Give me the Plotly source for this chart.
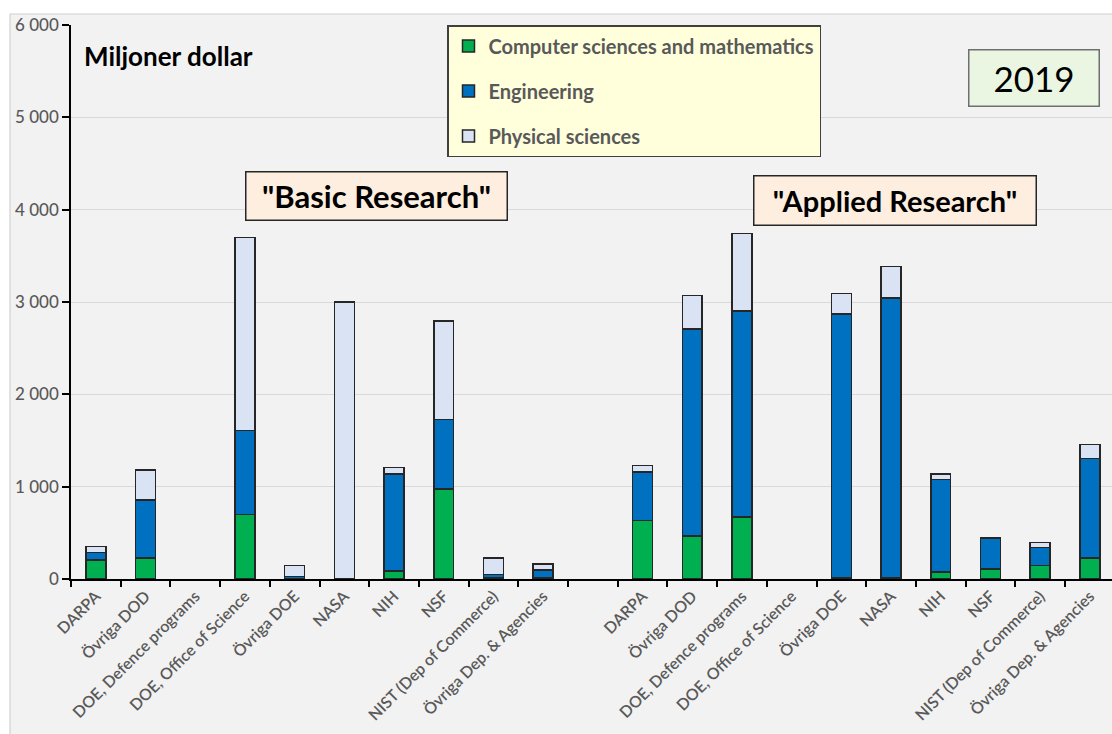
import plotly.graph_objects as go

# ---------------- data ----------------
agencies = ["DARPA", "Övriga DOD", "DOE, Defence programs", "DOE, Office of Science",
            "Övriga DOE", "NASA", "NIH", "NSF", "NIST (Dep of Commerce)",
            "Övriga Dep. & Agencies"]
series_names = ["Computer sciences and mathematics", "Engineering", "Physical sciences"]

basic_cs = [205, 230, 0, 700, 5, 0, 85, 975, 10, 15]
basic_eng = [80, 625, 0, 910, 20, 0, 1050, 755, 40, 85]
basic_phys = [65, 325, 0, 2090, 120, 3000, 70, 1065, 175, 65]

applied_cs = [635, 465, 670, 0, 15, 10, 75, 110, 145, 225]
applied_eng = [525, 2240, 2230, 0, 2855, 3035, 1000, 330, 195, 1080]
applied_phys = [70, 365, 840, 0, 220, 340, 60, 10, 55, 150]

y_tickvals = [0, 1000, 2000, 3000, 4000, 5000, 6000]
y_ticktext = ["0", "1 000", "2 000", "3 000", "4 000", "5 000", "6 000"]

labels_basic = '"Basic Research"'
labels_applied = '"Applied Research"'
unit_label = "Miljoner dollar"
year_label = "2019"

# ---------------- combine ----------------
x_labels = agencies + [""] + agencies
x_pos = list(range(len(x_labels)))


def joined(b, a):
    return [v if v else None for v in b] + [None] + [v if v else None for v in a]


cs = joined(basic_cs, applied_cs)
eng = joined(basic_eng, applied_eng)
phys = joined(basic_phys, applied_phys)

colors = ["#00B050", "#0070C0", "#DAE3F3"]

W, H = 1112, 734
ML, MR, MT, MB = 71, 0, 25, 155
PW, PH = W - ML - MR, H - MT - MB
slot = 49.7


def px2x(p):
    return (p - ML) / PW


def px2y(p):
    return (H - MB - p) / PH


fig = go.Figure()
for name, vals, col, grp in zip(series_names, [cs, eng, phys], colors, ["a", "b", "c"]):
    fig.add_trace(go.Bar(
        x=x_pos, y=vals, name=name, legendgroup=grp,
        marker=dict(color=col, line=dict(color="#262626", width=1.5)),
    ))

tick_font = dict(family="Lato", size=16, color="#595959", weight=600)

fig.update_layout(
    width=W, height=H,
    margin=dict(l=ML, r=MR, t=MT, b=MB),
    barmode="stack", bargap=0.6,
    paper_bgcolor="#F2F2F2", plot_bgcolor="#F2F2F2",
    font=dict(family="Lato"),
    showlegend=True,
    legend=dict(
        x=px2x(447), y=px2y(25), xanchor="left", yanchor="top",
        bgcolor="#FFFFDC", bordercolor="#404040", borderwidth=1.5,
        font=dict(family="Lato", size=20, color="#595959", weight="bold"),
        traceorder="grouped", tracegroupgap=16,
    ),
    xaxis=dict(
        range=[-0.5, -0.5 + PW / slot], automargin=False,
        tickmode="array", tickvals=x_pos, ticktext=x_labels,
        tickangle=-45, tickfont=tick_font, ticks="",
        showline=True, linecolor="black", linewidth=1.5,
        showgrid=False, zeroline=False,
        minor=dict(ticks="outside", ticklen=6, tickcolor="black", tickwidth=1.5,
                   tick0=0.5, dtick=1, showgrid=False),
    ),
    yaxis=dict(
        range=[0, 6000], automargin=False,
        tickmode="array", tickvals=y_tickvals, ticktext=y_ticktext,
        tickfont=dict(family="Lato", size=17, color="#595959", weight=500),
        ticks="outside", ticklen=7, tickcolor="black", tickwidth=1.5,
        showline=True, linecolor="black", linewidth=1.5,
        showgrid=True, gridcolor="#D9D9D9", gridwidth=1.2, zeroline=False,
    ),
)

shapes = [
    dict(type="rect", xref="paper", yref="paper", x0=px2x(-5), x1=px2x(10),
         y0=px2y(H + 5), y1=px2y(-5), fillcolor="white", line=dict(width=0), layer="above"),
    dict(type="rect", xref="paper", yref="paper", x0=px2x(-5), x1=px2x(W + 5),
         y0=px2y(14), y1=px2y(-5), fillcolor="white", line=dict(width=0), layer="above"),
    dict(type="line", xref="paper", yref="paper", x0=px2x(10), x1=px2x(10),
         y0=px2y(14), y1=px2y(H + 5), line=dict(color="#D0D0D0", width=1.2), layer="above"),
    dict(type="line", xref="paper", yref="paper", x0=px2x(10), x1=px2x(W + 5),
         y0=px2y(14), y1=px2y(14), line=dict(color="#D0D0D0", width=1.2), layer="above"),
]
fig.update_layout(shapes=shapes)

annotations = [
    dict(text=unit_label, xref="paper", yref="paper", x=px2x(82), y=px2y(56),
         xanchor="left", yanchor="middle", showarrow=False,
         font=dict(family="Lato", size=26, color="black", weight="bold")),
    dict(text=labels_basic, xref="paper", yref="paper", x=px2x(376.5), y=px2y(196),
         xanchor="center", yanchor="middle", showarrow=False, width=260, height=47,
         bgcolor="#FDEEDF", bordercolor="#262626", borderwidth=1.5, borderpad=0,
         font=dict(family="Lato", size=31, color="black", weight="bold")),
    dict(text=labels_applied, xref="paper", yref="paper", x=px2x(895), y=px2y(201),
         xanchor="center", yanchor="middle", showarrow=False, width=281, height=48,
         bgcolor="#FDEEDF", bordercolor="#262626", borderwidth=1.5, borderpad=0,
         font=dict(family="Lato", size=29, color="black", weight="bold")),
    dict(text=year_label, xref="paper", yref="paper", x=px2x(1034), y=px2y(78),
         xanchor="center", yanchor="middle", showarrow=False, width=129, height=55,
         bgcolor="#EAF6E2", bordercolor="#6F6F6F", borderwidth=1.5, borderpad=0,
         font=dict(family="Lato", size=35, color="black")),
]
fig.update_layout(annotations=annotations)

fig.write_html("out.html", config={"displayModeBar": False},
               post_script="document.body.style.margin='0px';document.body.style.overflow='hidden';")
